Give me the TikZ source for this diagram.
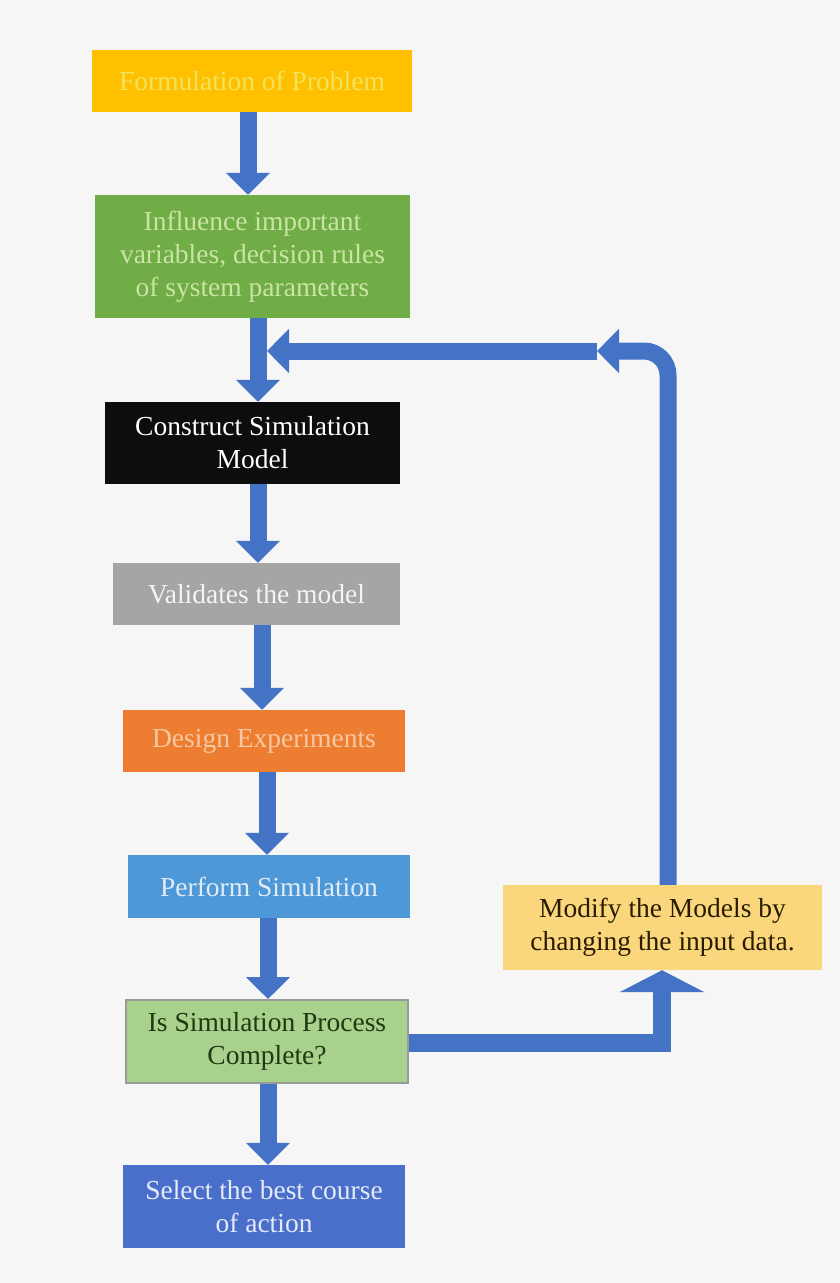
\documentclass[tikz,border=0pt]{standalone}
\usepackage{fontspec}
\setmainfont{Liberation Serif}
\usetikzlibrary{arrows.meta}
\definecolor{bg}{HTML}{F6F6F6}
\definecolor{arrblue}{HTML}{4472C4}
\definecolor{c1}{HTML}{FFC000}\definecolor{t1}{HTML}{F3E25C}
\definecolor{c2}{HTML}{70AD47}\definecolor{t2}{HTML}{C9E4A3}
\definecolor{c3}{HTML}{0D0D0D}\definecolor{t3}{HTML}{FFFFFF}
\definecolor{c4}{HTML}{A5A5A5}\definecolor{t4}{HTML}{F4F4F4}
\definecolor{c5}{HTML}{ED7D31}\definecolor{t5}{HTML}{F8C8A2}
\definecolor{c6}{HTML}{4F98D8}\definecolor{t6}{HTML}{DFECF8}
\definecolor{c7}{HTML}{A9D18E}\definecolor{t7}{HTML}{1E3A10}\definecolor{b7}{HTML}{9A9A9A}
\definecolor{c8}{HTML}{4A6FCB}\definecolor{t8}{HTML}{E4EAF8}
\definecolor{c9}{HTML}{FAD67C}\definecolor{t9}{HTML}{2A1C00}
\tikzset{
  box/.style={rectangle, inner sep=0pt, align=center, font=\fontsize{27.5}{33}\selectfont},
  arr/.style={draw=arrblue, line width=17pt, line join=miter, -{Triangle[width=43pt,length=22pt]}},
  bigarr/.style={draw=arrblue, line width=18pt, line join=miter, -{Triangle[width=84pt,length=22pt]}}
}
\begin{document}
\begin{tikzpicture}[x=1pt,y=-1pt]
\fill[bg] (0,0) rectangle (840,1283);
\useasboundingbox (0,0) rectangle (840,1283);
\node[box, fill=c1, text=t1, minimum width=320pt, minimum height=62pt] (n1) at (252,81) {Formulation of Problem};
\node[box, fill=c2, text=t2, minimum width=315pt, minimum height=123pt] (n2) at (252.5,256.5) {Influence important\\variables, decision rules\\of system parameters};
\node[box, fill=c3, text=t3, minimum width=295pt, minimum height=82pt] (n3) at (252.5,443) {Construct Simulation\\Model};
\node[box, fill=c4, text=t4, minimum width=287pt, minimum height=62pt] (n4) at (256.5,594) {Validates the model};
\node[box, fill=c5, text=t5, minimum width=282pt, minimum height=62pt] (n5) at (264,741) {Design Experiments};
\node[box, fill=c6, text=t6, minimum width=282pt, minimum height=63pt] (n6) at (269,886.5) {Perform Simulation};
\node[box, fill=c7, text=t7, draw=b7, line width=2pt, minimum width=282pt, minimum height=83pt] (n7) at (267,1041.5) {Is Simulation Process\\Complete?};
\node[box, fill=c8, text=t8, minimum width=282pt, minimum height=83pt] (n8) at (264,1206.5) {Select the best course\\of action};
\node[box, fill=c9, text=t9, minimum width=319pt, minimum height=85pt] (n9) at (662.5,927.5) {Modify the Models by\\changing the input data.};
% straight arrows
\draw[arr] (248,0 |- n1.south) -- (248,0 |- n2.north);
\draw[arr] (258,0 |- n2.south) -- (258,0 |- n3.north);
\draw[arr] (258,0 |- n3.south) -- (258,0 |- n4.north);
\draw[arr] (262,0 |- n4.south) -- (262,0 |- n5.north);
\draw[arr] (267,0 |- n5.south) -- (267,0 |- n6.north);
\draw[arr] (268,0 |- n6.south) -- (268,0 |- n7.north);
\draw[arr] (268,0 |- n7.south) -- (268,0 |- n8.north);
% loop
\coordinate (c1) at (662,1043);
\draw[bigarr] (n7.east |- c1) -- (c1) -- (662,0 |- n9.south);
\coordinate (up) at (668,351);
\coordinate (j1) at (597,351);
\coordinate (j2) at (267,351);
\draw[arr, rounded corners=24pt] (668,0 |- n9.north) -- (up) -- (j1);
\draw[arr] (j1) -- (j2);
\end{tikzpicture}
\end{document}
